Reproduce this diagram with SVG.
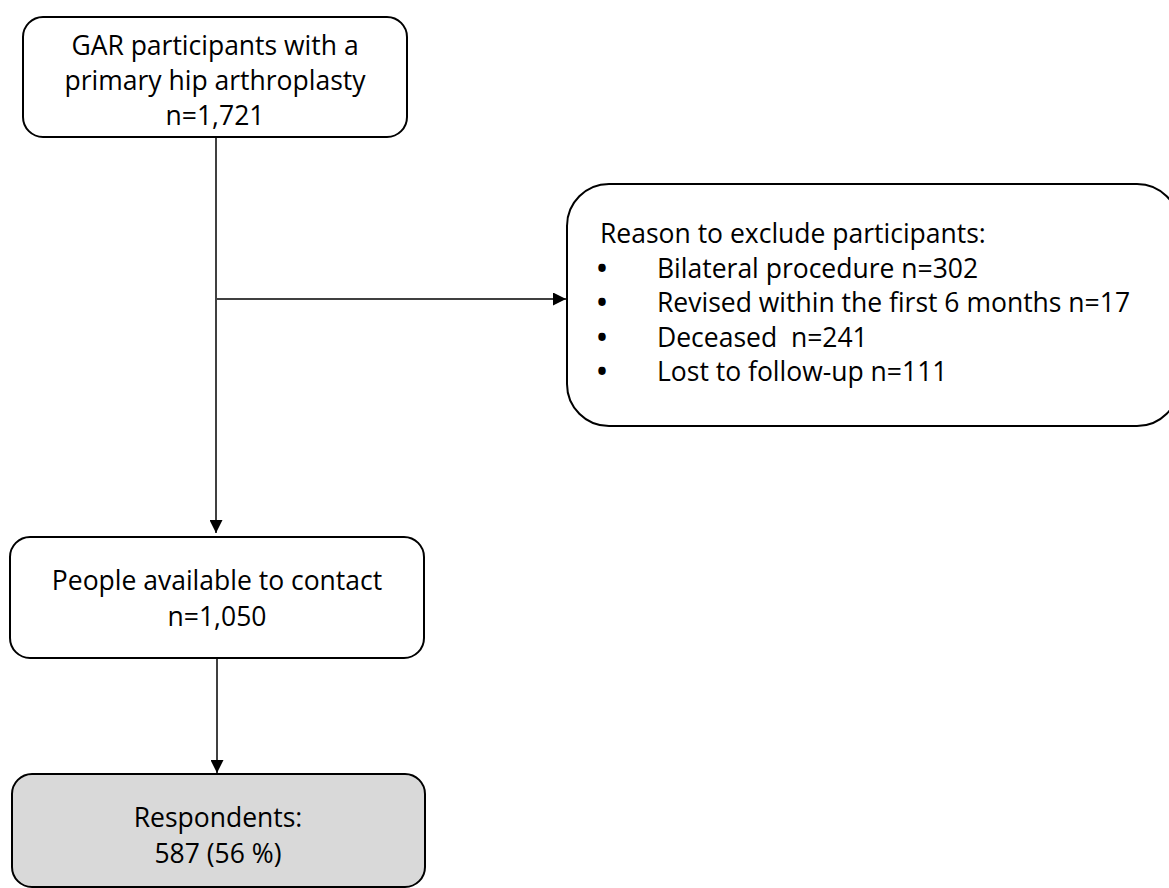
<svg xmlns="http://www.w3.org/2000/svg" width="1169" height="888" viewBox="0 0 1169 888">
<defs>
<marker id="arr" markerWidth="13" markerHeight="13" refX="13" refY="6.5" orient="auto" markerUnits="userSpaceOnUse">
<path d="M0,0 L13,6.5 L0,13 Z" fill="#000"/>
</marker>
<style>
.box{fill:#fff;stroke:#000;stroke-width:2}
.grey{fill:#d9d9d9}
.t{font-family:"Open Sans","Liberation Sans",sans-serif;font-size:26.5px;fill:#000}
.b{font-family:"Open Sans","Liberation Sans",sans-serif;font-size:26.5px;font-weight:bold;fill:#000}
.c{text-anchor:middle}
.line{fill:none;stroke:#000;stroke-width:1.5}
</style>
</defs>
<rect width="1169" height="888" fill="#fff"/>
<g id="connectors">
<line class="line" x1="216" y1="137" x2="216" y2="533" marker-end="url(#arr)"/>
<line class="line" x1="217" y1="299" x2="566" y2="299" marker-end="url(#arr)"/>
<line class="line" x1="217" y1="658" x2="217" y2="773" marker-end="url(#arr)"/>
</g>
<g id="n1">
<rect class="box" x="23" y="17" width="384" height="120" rx="20"/>
<text class="t c" x="215" y="55">GAR participants with a</text>
<text class="t c" x="215" y="90">primary hip arthroplasty</text>
<text class="t c" x="215" y="125">n=1,721</text>
</g>
<g id="n2">
<rect class="box" x="567" y="184" width="612" height="242" rx="42"/>
<text class="t" x="600" y="243">Reason to exclude participants:</text>
<text class="b" x="597" y="278">•</text>
<text class="t" x="657" y="278">Bilateral procedure n=302</text>
<text class="b" x="597" y="312">•</text>
<text class="t" x="657" y="312">Revised within the first 6 months n=17</text>
<text class="b" x="597" y="347">•</text>
<text class="t" x="657" y="347" xml:space="preserve">Deceased  n=241</text>
<text class="b" x="597" y="381">•</text>
<text class="t" x="657" y="381">Lost to follow-up n=111</text>
</g>
<g id="n3">
<rect class="box" x="10" y="537" width="414" height="121" rx="20"/>
<text class="t c" x="217" y="590">People available to contact</text>
<text class="t c" x="217" y="626">n=1,050</text>
</g>
<g id="n4">
<rect class="box grey" x="12" y="774" width="413" height="113" rx="20"/>
<text class="t c" x="218" y="827">Respondents:</text>
<text class="t c" x="218" y="863">587 (56 %)</text>
</g>
</svg>
